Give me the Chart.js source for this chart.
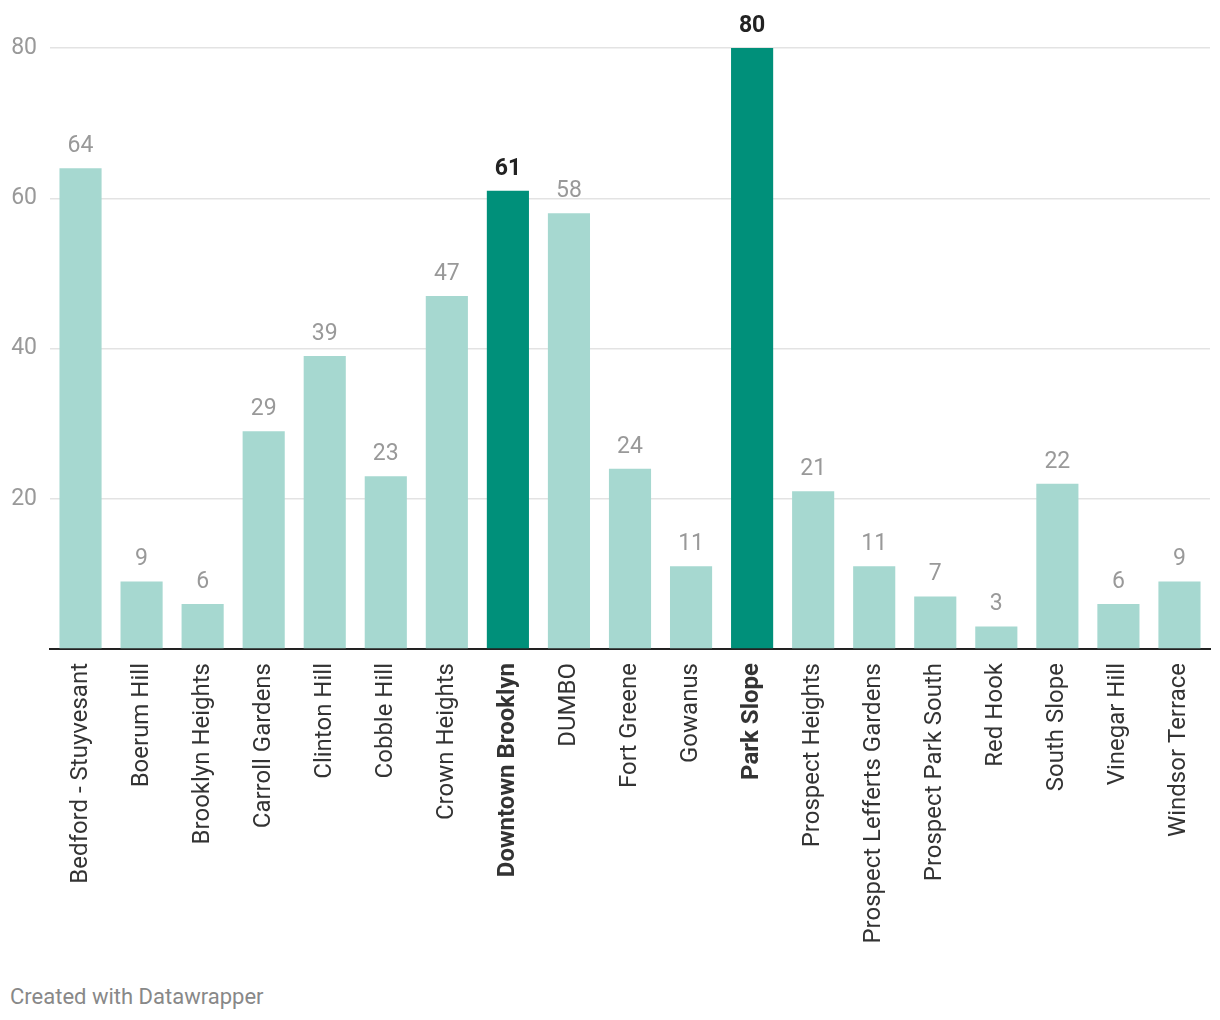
<!DOCTYPE html>
<html>
<head>
<meta charset="utf-8">
<script src="https://cdn.jsdelivr.net/npm/chart.js@4"></script>
<style>
body { margin:0; background:#fff; font-family:Roboto, sans-serif; }
#wrap { position:relative; width:1220px; height:960px; }
#footer { position:absolute; left:10px; top:984px; font-size:22px; color:#888; font-family:Roboto, sans-serif; }
</style>
</head>
<body>
<div id="wrap"><canvas id="chart"></canvas></div>
<div id="footer">Created with Datawrapper</div>
<script>

/* DATA */

const neighborhoods = [
"Bedford - Stuyvesant","Boerum Hill","Brooklyn Heights","Carroll Gardens","Clinton Hill",
"Cobble Hill","Crown Heights","Downtown Brooklyn","DUMBO","Fort Greene","Gowanus",
"Park Slope","Prospect Heights","Prospect Lefferts Gardens","Prospect Park South",
"Red Hook","South Slope","Vinegar Hill","Windsor Terrace"
];

const counts = [64,9,6,29,39,23,47,61,58,24,11,80,21,11,7,3,22,6,9];

const highlighted = ["Downtown Brooklyn","Park Slope"];

const yTicks = [0,20,40,60,80];


/* COLORS */

const lightColor = "#a6d8d0";
const darkColor = "#00907a";

function isHigh(i){
return highlighted.includes(neighborhoods[i]);
}


/* VALUE LABELS ABOVE BARS */

const valueLabels = {
id:"valueLabels",
afterDatasetsDraw(chart){
const ctx = chart.ctx;
const meta = chart.getDatasetMeta(0);
ctx.save();
ctx.textAlign = "center";
ctx.textBaseline = "alphabetic";
meta.data.forEach((bar, i) => {
ctx.font = (isHigh(i) ? "bold " : "") + "23px Roboto";
ctx.fillStyle = isHigh(i) ? "#222" : "#999";
ctx.fillText(counts[i], bar.x, bar.y - 16);
});
ctx.restore();
}
};


new Chart(document.getElementById("chart"),{

type:"bar",

data:{
labels:neighborhoods,
datasets:[{
data:counts,
backgroundColor:counts.map((v,i) => isHigh(i) ? darkColor : lightColor),
categoryPercentage:1,
barPercentage:0.69
}]
},

options:{
responsive:true,
maintainAspectRatio:false,
animation:false,
layout:{ padding:{ top:48, right:10, left:0, bottom:0 } },
plugins:{ legend:{display:false}, tooltip:{enabled:false} },
scales:{
x:{
grid:{ display:false, drawTicks:false },
border:{ display:true, color:"#222", width:2 },
ticks:{
autoSkip:false,
maxRotation:90,
minRotation:90,
padding:14,
color:"#333",
font:c => ({ family:"Roboto", size:24, weight: isHigh(c.index) ? "bold" : "normal" })
},
afterFit(scale){
scale.height = 311;
scale.paddingLeft = 0;
scale.paddingRight = 0;
}
},
y:{
min:0,
max:80,
afterBuildTicks(scale){ scale.ticks = yTicks.map(v => ({value:v})); },
grid:{ color:"#e3e3e3", lineWidth:1.5, drawTicks:false },
border:{ display:false },
ticks:{
padding:13,
color:"#999",
font:{ family:"Roboto", size:23 },
callback:v => v === 0 ? "" : v
},
afterFit(scale){ scale.width = 50; }
}
}
},

plugins:[valueLabels]

});

</script>
</body>
</html>
